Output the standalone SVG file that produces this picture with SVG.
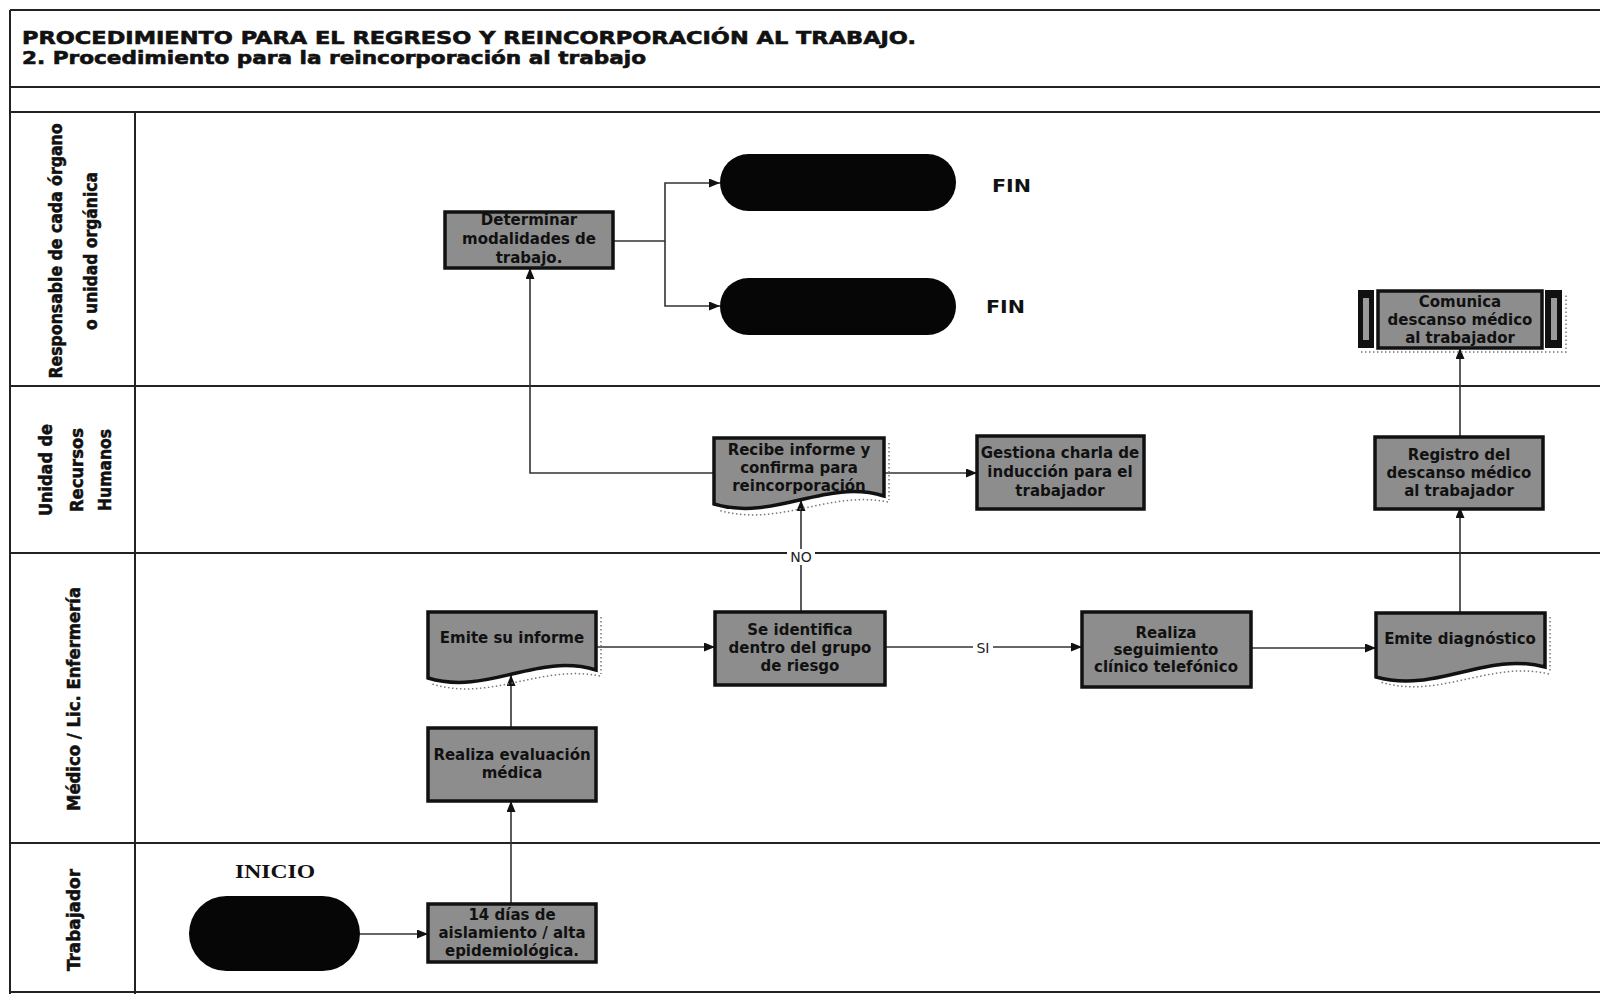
<svg xmlns="http://www.w3.org/2000/svg" width="1600" height="994" viewBox="0 0 1600 994">
<style>
.frame{stroke:#222;stroke-width:2;fill:none}
.box{fill:#8d8d8d;stroke:#111;stroke-width:3.5}
.term{fill:#060606}
.bar{fill:#111}
.slot{fill:#9a9a9a}
.shadow{fill:none;stroke:#777;stroke-width:1.5;stroke-dasharray:1.5 2.5}
.nt{font-family:'DejaVu Sans',Verdana,sans-serif;font-weight:bold;font-size:15px;fill:#111;text-anchor:middle}
.title{font-family:'DejaVu Sans',Verdana,sans-serif;font-weight:bold;font-size:18px;fill:#111;stroke:#111;stroke-width:0.6}
.lane{font-family:'Liberation Sans Narrow','DejaVu Sans Condensed','Liberation Sans',sans-serif;font-weight:bold;font-size:17px;fill:#111;stroke:#111;stroke-width:0.5;text-anchor:middle}
.lbl{font-family:'DejaVu Sans',Verdana,sans-serif;font-size:14px;fill:#222;text-anchor:middle}
.fin{font-family:'DejaVu Sans',Verdana,sans-serif;font-weight:bold;font-size:17px;fill:#111}
.ini{font-family:'Liberation Serif','DejaVu Serif',serif;font-weight:bold;font-size:18px;fill:#111}
.conn{stroke:#333;stroke-width:1.6;fill:none}
.arr{marker-end:url(#arrow)}
</style>
<defs>
<marker id="arrow" markerUnits="userSpaceOnUse" markerWidth="11" markerHeight="9" refX="11" refY="4.5" orient="auto">
<path d="M0,0 L11,4.5 L0,9 Z" fill="#111"/>
</marker>
</defs>
<rect width="1600" height="994" fill="#ffffff"/>

<g id="frame">
<line class="frame" x1="10" y1="10" x2="1600" y2="10"/>
<line class="frame" x1="10" y1="10" x2="10" y2="994"/>
<line class="frame" x1="10" y1="87" x2="1600" y2="87"/>
<line class="frame" x1="10" y1="112" x2="1600" y2="112"/>
<line class="frame" x1="135" y1="112" x2="135" y2="994"/>
<line class="frame" x1="10" y1="386" x2="1600" y2="386"/>
<line class="frame" x1="10" y1="553" x2="1600" y2="553"/>
<line class="frame" x1="10" y1="843" x2="1600" y2="843"/>
<line class="frame" x1="10" y1="992" x2="1600" y2="992"/>
<text class="title" x="22" y="44" textLength="894" lengthAdjust="spacingAndGlyphs">PROCEDIMIENTO PARA EL REGRESO Y REINCORPORACIÓN AL TRABAJO.</text>
<text class="title" x="22" y="64" textLength="624" lengthAdjust="spacingAndGlyphs">2. Procedimiento para la reincorporación al trabajo</text>
</g>

<g id="lanes">
<text class="lane" transform="translate(56,251) rotate(-90)" y="6" textLength="255" lengthAdjust="spacingAndGlyphs">Responsable de cada órgano</text>
<text class="lane" transform="translate(91,251) rotate(-90)" y="6" textLength="158" lengthAdjust="spacingAndGlyphs">o unidad orgánica</text>
<text class="lane" transform="translate(46,470) rotate(-90)" y="6" textLength="92" lengthAdjust="spacingAndGlyphs">Unidad de</text>
<text class="lane" transform="translate(77,470) rotate(-90)" y="6" textLength="84" lengthAdjust="spacingAndGlyphs">Recursos</text>
<text class="lane" transform="translate(105,470) rotate(-90)" y="6" textLength="82" lengthAdjust="spacingAndGlyphs">Humanos</text>
<text class="lane" transform="translate(74,699) rotate(-90)" y="6" textLength="224" lengthAdjust="spacingAndGlyphs">Médico / Lic. Enfermería</text>
<text class="lane" transform="translate(74,920) rotate(-90)" y="6" textLength="102" lengthAdjust="spacingAndGlyphs">Trabajador</text>
</g>

<g id="connectors">
<path class="conn arr" d="M360,934 H428"/>
<path class="conn arr" d="M511,904 V801"/>
<path class="conn arr" d="M511,728 V675"/>
<path class="conn arr" d="M596,647 H715"/>
<path class="conn arr" d="M801,612 V500"/>
<path class="conn arr" d="M884,647 H1082"/>
<path class="conn arr" d="M1251,648 H1376"/>
<path class="conn arr" d="M1460,612 V507"/>
<path class="conn arr" d="M1460,437 V348"/>
<path class="conn arr" d="M714,473 H530 V268"/>
<path class="conn arr" d="M884,473 H977"/>
<path class="conn arr" d="M613,241 H665 V183 H720"/>
<path class="conn arr" d="M665,241 V306 H720"/>
<rect x="787" y="549" width="28" height="16" fill="#fff"/>
<text class="lbl" x="801" y="562">NO</text>
<rect x="973" y="640" width="20" height="16" fill="#fff"/>
<text class="lbl" x="983" y="653">SI</text>
</g>

<g id="inicio">
<text class="ini" x="235" y="878" textLength="80" lengthAdjust="spacingAndGlyphs">INICIO</text>
<rect class="term" x="189" y="896" width="171" height="75" rx="37.5"/>
</g>

<g id="n-aislamiento">
<rect class="box" x="428" y="904" width="168" height="58"/>
<text class="nt" x="512" y="920">14 días de</text>
<text class="nt" x="512" y="938">aislamiento / alta</text>
<text class="nt" x="512" y="956">epidemiológica.</text>
</g>

<g id="n-evaluacion">
<rect class="box" x="428" y="728" width="168" height="73"/>
<text class="nt" x="512" y="760">Realiza evaluación</text>
<text class="nt" x="512" y="778">médica</text>
</g>

<g id="n-emite-informe">
<path class="shadow" d="M601,617 V674 M600,676 C541,664 491,702 432,684"/>
<path class="box" d="M428,612 H596 V670 C537,652 487,696 428,678 Z"/>
<text class="nt" x="512" y="643">Emite su informe</text>
</g>

<g id="n-identifica">
<rect class="box" x="715" y="612" width="170" height="73"/>
<text class="nt" x="800" y="635">Se identifica</text>
<text class="nt" x="800" y="653">dentro del grupo</text>
<text class="nt" x="800" y="671">de riesgo</text>
</g>

<g id="n-seguimiento">
<rect class="box" x="1082" y="612" width="169" height="75"/>
<text class="nt" x="1166" y="638">Realiza</text>
<text class="nt" x="1166" y="655">seguimiento</text>
<text class="nt" x="1166" y="672">clínico telefónico</text>
</g>

<g id="n-diagnostico">
<path class="shadow" d="M1550,617 V672 M1549,674 C1490,660 1440,700 1380,682"/>
<path class="box" d="M1376,613 H1545 V667 C1486,651 1436,694 1376,677 Z"/>
<text class="nt" x="1460" y="644">Emite diagnóstico</text>
</g>

<g id="n-recibe">
<path class="shadow" d="M889,443 V500 M888,502 C829,490 779,528 718,510"/>
<path class="box" d="M714,438 H884 V496 C825,478 774,522 714,504 Z"/>
<text class="nt" x="799" y="455">Recibe informe y</text>
<text class="nt" x="799" y="473">confirma para</text>
<text class="nt" x="799" y="491">reincorporación</text>
</g>

<g id="n-gestiona">
<rect class="box" x="977" y="436" width="167" height="73"/>
<text class="nt" x="1060" y="458">Gestiona charla de</text>
<text class="nt" x="1060" y="477">inducción para el</text>
<text class="nt" x="1060" y="496">trabajador</text>
</g>

<g id="n-registro">
<rect class="box" x="1375" y="437" width="168" height="72"/>
<text class="nt" x="1459" y="460">Registro del</text>
<text class="nt" x="1459" y="478">descanso médico</text>
<text class="nt" x="1459" y="496">al trabajador</text>
</g>

<g id="n-comunica">
<path class="shadow" d="M1361,352 H1566 V295"/>
<rect class="bar" x="1358" y="290" width="16" height="58"/>
<rect class="slot" x="1363" y="298" width="6" height="42"/>
<rect class="box" x="1378" y="291" width="164" height="57"/>
<rect class="bar" x="1545" y="290" width="17" height="58"/>
<rect class="slot" x="1551" y="298" width="6" height="42"/>
<text class="nt" x="1460" y="307">Comunica</text>
<text class="nt" x="1460" y="325">descanso médico</text>
<text class="nt" x="1460" y="343">al trabajador</text>
</g>

<g id="n-determinar">
<rect class="box" x="445" y="212" width="168" height="56"/>
<text class="nt" x="529" y="225">Determinar</text>
<text class="nt" x="529" y="244">modalidades de</text>
<text class="nt" x="529" y="263">trabajo.</text>
</g>

<g id="fin-1">
<rect class="term" x="720" y="154" width="236" height="57" rx="28.5"/>
<text class="fin" x="992" y="192" textLength="39" lengthAdjust="spacingAndGlyphs">FIN</text>
</g>

<g id="fin-2">
<rect class="term" x="720" y="278" width="236" height="57" rx="28.5"/>
<text class="fin" x="986" y="313" textLength="39" lengthAdjust="spacingAndGlyphs">FIN</text>
</g>
</svg>
